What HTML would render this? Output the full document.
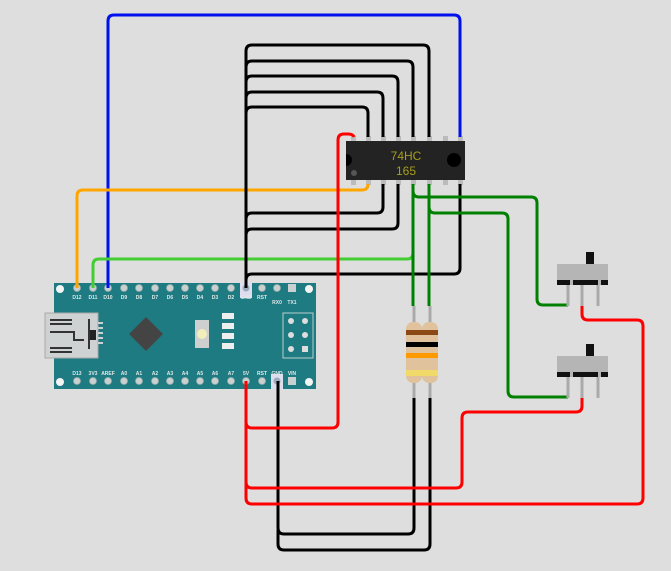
<!DOCTYPE html>
<html><head><meta charset="utf-8"><style>html,body{margin:0;padding:0;background:#dedede}svg{display:block}</style></head><body>
<svg width="671" height="571" viewBox="0 0 671 571" xmlns="http://www.w3.org/2000/svg" font-family="Liberation Sans, sans-serif">
<rect width="671" height="571" fill="#dedede"/>
<!-- Arduino board -->
<rect x="54" y="283" width="262" height="106" fill="#1e7b82"/>
<g fill="#f4f4f4"><circle cx="60" cy="289" r="4"/><circle cx="309" cy="289" r="4"/><circle cx="60" cy="382" r="4"/><circle cx="309" cy="382" r="4"/></g>
<g fill="#c8d0d0" stroke="#9aa" stroke-width="0.8">
<circle cx="77" cy="288" r="3.5"/><circle cx="93" cy="288" r="3.5"/><circle cx="108" cy="288" r="3.5"/><circle cx="124" cy="288" r="3.5"/><circle cx="139" cy="288" r="3.5"/><circle cx="155" cy="288" r="3.5"/><circle cx="170" cy="288" r="3.5"/><circle cx="185" cy="288" r="3.5"/><circle cx="200" cy="288" r="3.5"/><circle cx="215" cy="288" r="3.5"/><circle cx="231" cy="288" r="3.5"/><circle cx="262" cy="288" r="3.5"/><circle cx="277" cy="288" r="3.5"/>
<circle cx="77" cy="381" r="3.5"/><circle cx="93" cy="381" r="3.5"/><circle cx="108" cy="381" r="3.5"/><circle cx="124" cy="381" r="3.5"/><circle cx="139" cy="381" r="3.5"/><circle cx="155" cy="381" r="3.5"/><circle cx="170" cy="381" r="3.5"/><circle cx="185" cy="381" r="3.5"/><circle cx="200" cy="381" r="3.5"/><circle cx="215" cy="381" r="3.5"/><circle cx="231" cy="381" r="3.5"/><circle cx="246" cy="381" r="3.5"/><circle cx="262" cy="381" r="3.5"/>
</g>
<rect x="240" y="282" width="12" height="16" fill="#dde"/><circle cx="246" cy="288" r="3.5" fill="#9ab"/>
<rect x="271" y="374" width="12" height="16" fill="#dde"/><circle cx="277" cy="381" r="3.5" fill="#9ab"/>
<rect x="288" y="284" width="8" height="8" fill="#c8d0d0"/><rect x="288" y="377" width="8" height="8" fill="#c8d0d0"/>
<g fill="#dfe8e8" font-size="5" text-anchor="middle" font-weight="bold">
<text x="77" y="299">D12</text><text x="93" y="299">D11</text><text x="108" y="299">D10</text><text x="124" y="299">D9</text><text x="139" y="299">D8</text><text x="155" y="299">D7</text><text x="170" y="299">D6</text><text x="185" y="299">D5</text><text x="200" y="299">D4</text><text x="215" y="299">D3</text><text x="231" y="299">D2</text><text x="246" y="299">GND</text><text x="262" y="299">RST</text><text x="277" y="304">RX0</text><text x="292" y="304">TX1</text>
<text x="77" y="375">D13</text><text x="93" y="375">3V3</text><text x="108" y="375">AREF</text><text x="124" y="375">A0</text><text x="139" y="375">A1</text><text x="155" y="375">A2</text><text x="170" y="375">A3</text><text x="185" y="375">A4</text><text x="200" y="375">A5</text><text x="215" y="375">A6</text><text x="231" y="375">A7</text><text x="246" y="375">5V</text><text x="262" y="375">RST</text><text x="277" y="375">GND</text><text x="292" y="375">VIN</text>
</g>
<!-- USB -->
<rect x="45" y="313" width="53" height="45" fill="#cfd2d2" stroke="#aaa"/>
<path d="M50 320h22M50 324h22M50 332h24v8h10M50 348h22M50 352h22" stroke="#333" stroke-width="2" fill="none"/>
<rect x="88" y="330" width="8" height="10" fill="#222"/>
<line x1="89" y1="319" x2="89" y2="349" stroke="#333" stroke-width="2"/>
<g fill="#cfd2d2"><rect x="98" y="322" width="5" height="2"/><rect x="98" y="327" width="5" height="2"/><rect x="98" y="332" width="5" height="2"/><rect x="98" y="337" width="5" height="2"/><rect x="98" y="342" width="5" height="2"/></g>
<!-- MCU -->
<rect x="134" y="322" width="24" height="24" fill="#444" transform="rotate(45 146 334)"/>
<!-- reset -->
<rect x="195" y="320" width="14" height="28" fill="#cfcfcf"/><circle cx="202" cy="334" r="5" fill="#f0eebb"/>
<g fill="#eee"><rect x="222" y="313" width="12" height="6"/><rect x="222" y="323" width="12" height="6"/><rect x="222" y="333" width="12" height="6"/><rect x="222" y="343" width="12" height="6"/></g>
<rect x="283" y="313" width="30" height="45" fill="none" stroke="#b8cfcf" stroke-width="1"/>
<g fill="#ddd"><circle cx="291" cy="321" r="3"/><circle cx="305" cy="321" r="3"/><circle cx="291" cy="335" r="3"/><circle cx="305" cy="335" r="3"/><circle cx="291" cy="349" r="3"/><rect x="302" y="346" width="6" height="6"/></g>
<!-- chip -->
<g fill="#bbb"><rect x="351" y="136" width="5" height="6"/><rect x="366" y="136" width="5" height="6"/><rect x="381" y="136" width="5" height="6"/><rect x="396" y="136" width="5" height="6"/><rect x="411" y="136" width="5" height="6"/><rect x="427" y="136" width="5" height="6"/><rect x="443" y="136" width="5" height="6"/><rect x="458" y="136" width="5" height="6"/>
<rect x="351" y="179" width="5" height="6"/><rect x="366" y="179" width="5" height="6"/><rect x="381" y="179" width="5" height="6"/><rect x="396" y="179" width="5" height="6"/><rect x="411" y="179" width="5" height="6"/><rect x="427" y="179" width="5" height="6"/><rect x="443" y="179" width="5" height="6"/><rect x="458" y="179" width="5" height="6"/></g>
<rect x="346" y="141" width="119" height="39" fill="#232323"/>
<path d="M346 154a6 6 0 0 1 0 12z" fill="#000"/><circle cx="454" cy="160" r="7" fill="#000"/><circle cx="354" cy="173" r="3" fill="#555"/>
<text x="406" y="160" fill="#a89e1c" font-size="12" text-anchor="middle">74HC</text>
<text x="406" y="175" fill="#a89e1c" font-size="12" text-anchor="middle">165</text>
<!-- wires -->
<g fill="none" stroke-width="3" stroke-linejoin="round">
<path d="M108 288V21q0-6 6-6H454q6 0 6 6V137" stroke="#0010ee"/>
<path d="M77 288V196q0-6 6-6H362q6 0 6-6V184" stroke="#ffa500"/>
<path d="M93 288V265q0-6 6-6H407q6 0 6-6V184" stroke="#44cc33"/>
<g stroke="#000">
<path d="M246 288V51q0-6 6-6H423q6 0 6 6V137"/>
<path d="M246 100V67q0-6 6-6H407q6 0 6 6V137"/>
<path d="M246 100V82q0-6 6-6H392q6 0 6 6V137"/>
<path d="M246 100V98q0-6 6-6H377q6 0 6 6V137"/>
<path d="M246 130V113q0-6 6-6H362q6 0 6 6V137"/>
<path d="M383 184V207q0 6-6 6H252q-6 0-6 6"/>
<path d="M398 184V223q0 6-6 6H252q-6 0-6 6"/>
<path d="M460 184V268q0 6-6 6H252q-6 0-6 6"/>
<path d="M414 398V528q0 6-6 6H284q-6 0-6-6V381"/>
<path d="M430 398V544q0 6-6 6H284q-6 0-6-6V530"/>
</g>
<g stroke="#008000">
<path d="M413 184V306"/><path d="M429 184V306"/>
<path d="M413 191q0 6 6 6H531q6 0 6 6V299q0 6 6 6H568"/>
<path d="M429 207q0 6 6 6H502q6 0 6 6V391q0 6 6 6H568"/>
</g>
<g stroke="#ff0000">
<path d="M354 137q-1-3-6-3h-4q-6 0-6 6V422q0 6-6 6H252q-6 0-6-6V381"/>
<path d="M582 306V314q0 6 6 6H637q6 0 6 6V498q0 6-6 6H252q-6 0-6-6V420"/>
<path d="M582 398V406q0 6-6 6H468q-6 0-6 6V482q0 6-6 6H252q-6 0-6-6"/>
</g>
</g>
<!-- resistors -->
<g stroke="#aaa" stroke-width="3"><path d="M414 306V322M430 306V322M414 383V398M430 383V398"/></g>
<g>
<rect x="406" y="322" width="16" height="61" rx="7" fill="#e0c39c"/>
<rect x="422" y="322" width="16" height="61" rx="7" fill="#e0c39c"/>
<rect x="406" y="330" width="32" height="5" fill="#8b4a14"/>
<rect x="406" y="342" width="32" height="5" fill="#000"/>
<rect x="406" y="353" width="32" height="5" fill="#ff9900"/>
<rect x="406" y="370" width="32" height="6" fill="#f1d96a"/>
</g>
<!-- switches -->
<g>
<rect x="586" y="252" width="8" height="12" fill="#111"/>
<rect x="557" y="264" width="51" height="16" fill="#b5b5b5"/>
<rect x="557" y="280" width="51" height="5" fill="#111"/><rect x="570" y="280" width="3" height="5" fill="#b5b5b5"/><rect x="598" y="280" width="3" height="5" fill="#b5b5b5"/>
<g stroke="#aaa" stroke-width="3"><path d="M568 285V306M582 285V306M598 285V306"/></g>
<rect x="586" y="344" width="8" height="12" fill="#111"/>
<rect x="557" y="356" width="51" height="16" fill="#b5b5b5"/>
<rect x="557" y="372" width="51" height="5" fill="#111"/><rect x="570" y="372" width="3" height="5" fill="#b5b5b5"/><rect x="598" y="372" width="3" height="5" fill="#b5b5b5"/>
<g stroke="#aaa" stroke-width="3"><path d="M568 377V398M582 377V398M598 377V398"/></g>
</g>
</svg>
</body></html>
